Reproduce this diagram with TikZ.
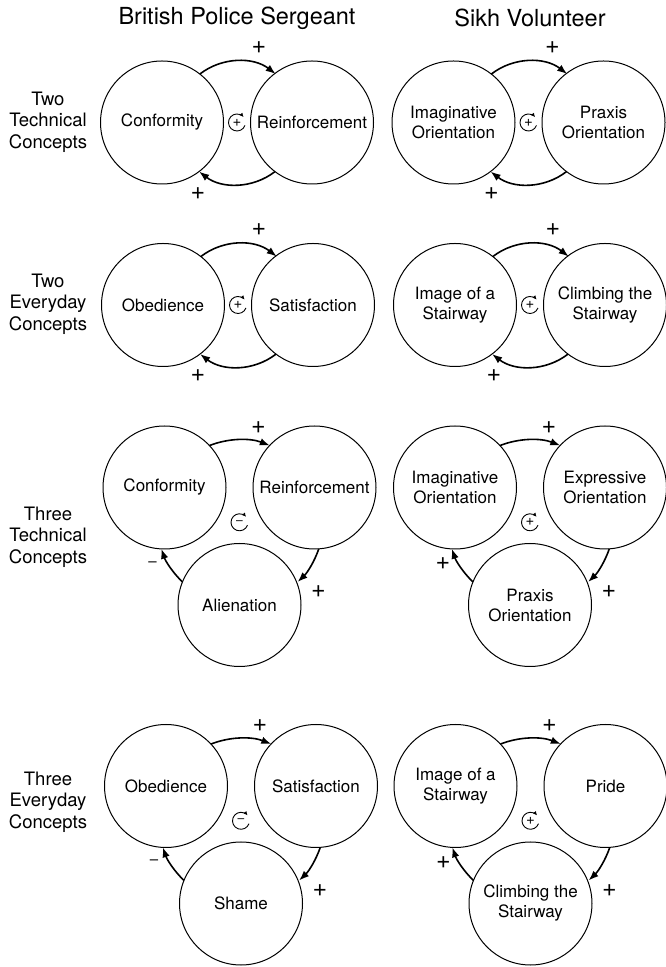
\documentclass[tikz,border=0pt]{standalone}
\usepackage{fontspec}
\setmainfont{TeX Gyre Heros}
\usetikzlibrary{arrows.meta}

\begin{document}
\begin{tikzpicture}[x=1pt,y=1pt,
  concept/.style={circle, draw, line width=1pt, minimum size=123pt, inner sep=0pt,
    outer sep=0pt, align=center, font=\fontsize{17}{20}\selectfont},
  conn/.style={line width=1.6pt, -{Latex[length=10pt,width=7.5pt]}},
  sign/.style={font=\fontsize{25}{28}\selectfont, inner sep=0pt},
  minus/.style={font=\fontsize{15}{17}\selectfont, inner sep=0pt},
  loopsym/.style={circle, minimum size=17pt, inner sep=0pt, outer sep=0pt,
    font=\fontsize{15}{15}\selectfont},
  looparc/.style={line width=0.9pt, -{Latex[length=4pt,width=4pt]}},
  rowlabel/.style={align=center, font=\fontsize{18.5}{21.5}\selectfont},
  header/.style={font=\fontsize{23.5}{26}\selectfont}
]
\useasboundingbox (0,0) rectangle (665,967);

% column headers
\node[header] (hl) at (237,949) {British Police Sergeant};
\node[header] (hr) at (530,949) {Sikh Volunteer};

% row labels
\node[rowlabel] (r1) at (48,845) {Two\\Technical\\Concepts};
\node[rowlabel] (r2) at (48,663) {Two\\Everyday\\Concepts};
\node[rowlabel] (r3) at (48,430) {Three\\Technical\\Concepts};
\node[rowlabel] (r4) at (48,165) {Three\\Everyday\\Concepts};

% ---------- two-concept loops ----------
% row 1, left
\begin{scope}[shift={(237,844.5)}]
  \node[concept] (c1a) at (-75,0) {Conformity};
  \node[concept] (c1b) at (75,0) {Reinforcement};
  \draw[conn] (c1a.52.9) arc[start angle=127.7, end angle=52.3, radius=62];
  \draw[conn] (c1b.-127.1) arc[start angle=-52.3, end angle=-127.7, radius=62];
  \node[sign] (s1a) at (22,75) {+};
  \node[sign] (s1b) at (-39,-71) {+};
  \node[loopsym] (l1) at (0,0) {+};
  \draw[looparc] (l1.-20) arc[start angle=-20, end angle=-320, radius=8.5];
\end{scope}

% row 1, right
\begin{scope}[shift={(528.5,844.5)}]
  \node[concept] (d1a) at (-75,0) {Imaginative\\Orientation};
  \node[concept] (d1b) at (75,0) {Praxis\\Orientation};
  \draw[conn] (d1a.52.9) arc[start angle=127.7, end angle=52.3, radius=62];
  \draw[conn] (d1b.-127.1) arc[start angle=-52.3, end angle=-127.7, radius=62];
  \node[sign] (t1a) at (24,75) {+};
  \node[sign] (t1b) at (-37,-71) {+};
  \node[loopsym] (m1) at (0,0) {+};
  \draw[looparc] (m1.-20) arc[start angle=-20, end angle=-320, radius=8.5];
\end{scope}

% row 2, left
\begin{scope}[shift={(238,662)}]
  \node[concept] (c2a) at (-75,0) {Obedience};
  \node[concept] (c2b) at (75,0) {Satisfaction};
  \draw[conn] (c2a.52.9) arc[start angle=127.7, end angle=52.3, radius=62];
  \draw[conn] (c2b.-127.1) arc[start angle=-52.3, end angle=-127.7, radius=62];
  \node[sign] (s2a) at (21,75) {+};
  \node[sign] (s2b) at (-40,-71) {+};
  \node[loopsym] (l2) at (0,0) {+};
  \draw[looparc] (l2.-20) arc[start angle=-20, end angle=-320, radius=8.5];
\end{scope}

% row 2, right
\begin{scope}[shift={(530,662)}]
  \node[concept] (d2a) at (-75,0) {Image of a\\Stairway};
  \node[concept] (d2b) at (75,0) {Climbing the\\Stairway};
  \draw[conn] (d2a.52.9) arc[start angle=127.7, end angle=52.3, radius=62];
  \draw[conn] (d2b.-127.1) arc[start angle=-52.3, end angle=-127.7, radius=62];
  \node[sign] (t2a) at (23,75) {+};
  \node[sign] (t2b) at (-36,-71) {+};
  \node[loopsym] (m2) at (0,0) {+};
  \draw[looparc] (m2.-20) arc[start angle=-20, end angle=-320, radius=8.5];
\end{scope}

% ---------- three-concept loops ----------
% row 3, left
\begin{scope}[shift={(239.5,479.5)}]
  \node[concept] (c3a) at (-75,0) {Conformity};
  \node[concept] (c3b) at (75,0) {Reinforcement};
  \node[concept] (c3c) at (0,-117.5) {Alienation};
  \draw[conn] (c3a.43.3) arc[start angle=111.4, end angle=68.6, radius=82.7];
  \draw[conn] (c3b.-86.9) arc[start angle=-18.8, end angle=-46.3, radius=82.7];
  \draw[conn] (c3c.158.2) arc[start angle=-133.7, end angle=-161.2, radius=82.7];
  \node[sign] (s3a) at (19,60) {+};
  \node[minus] (s3b) at (-87,-76.5) {\textendash};
  \node[sign] (s3c) at (79,-104.5) {+};
  \node[loopsym] (l3) at (0,-34.8) {\fontsize{12}{12}\selectfont\textendash};
  \draw[looparc] (l3.-20) arc[start angle=-20, end angle=-320, radius=8.5];
\end{scope}

% row 3, right
\begin{scope}[shift={(530,479.5)}]
  \node[concept] (d3a) at (-75,0) {Imaginative\\Orientation};
  \node[concept] (d3b) at (75,0) {Expressive\\Orientation};
  \node[concept] (d3c) at (0,-117.5) {Praxis\\Orientation};
  \draw[conn] (d3a.43.3) arc[start angle=111.4, end angle=68.6, radius=82.7];
  \draw[conn] (d3b.-86.9) arc[start angle=-18.8, end angle=-46.3, radius=82.7];
  \draw[conn] (d3c.158.2) arc[start angle=-133.7, end angle=-161.2, radius=82.7];
  \node[sign] (t3a) at (19,60) {+};
  \node[sign] (t3b) at (-87,-76.5) {+};
  \node[sign] (t3c) at (79,-104.5) {+};
  \node[loopsym] (m3) at (0,-34.8) {+};
  \draw[looparc] (m3.-20) arc[start angle=-20, end angle=-320, radius=8.5];
\end{scope}

% row 4, left
\begin{scope}[shift={(241,181)}]
  \node[concept] (c4a) at (-75,0) {Obedience};
  \node[concept] (c4b) at (75,0) {Satisfaction};
  \node[concept] (c4c) at (0,-117.5) {Shame};
  \draw[conn] (c4a.43.3) arc[start angle=111.4, end angle=68.6, radius=82.7];
  \draw[conn] (c4b.-86.9) arc[start angle=-18.8, end angle=-46.3, radius=82.7];
  \draw[conn] (c4c.158.2) arc[start angle=-133.7, end angle=-161.2, radius=82.7];
  \node[sign] (s4a) at (19,60) {+};
  \node[minus] (s4b) at (-87,-76.5) {\textendash};
  \node[sign] (s4c) at (79,-104.5) {+};
  \node[loopsym] (l4) at (0,-34.8) {\fontsize{12}{12}\selectfont\textendash};
  \draw[looparc] (l4.-20) arc[start angle=-20, end angle=-320, radius=8.5];
\end{scope}

% row 4, right
\begin{scope}[shift={(530.5,181)}]
  \node[concept] (d4a) at (-75,0) {Image of a\\Stairway};
  \node[concept] (d4b) at (75,0) {Pride};
  \node[concept] (d4c) at (0,-117.5) {Climbing the\\Stairway};
  \draw[conn] (d4a.43.3) arc[start angle=111.4, end angle=68.6, radius=82.7];
  \draw[conn] (d4b.-86.9) arc[start angle=-18.8, end angle=-46.3, radius=82.7];
  \draw[conn] (d4c.158.2) arc[start angle=-133.7, end angle=-161.2, radius=82.7];
  \node[sign] (t4a) at (19,60) {+};
  \node[sign] (t4b) at (-87,-76.5) {+};
  \node[sign] (t4c) at (79,-104.5) {+};
  \node[loopsym] (m4) at (0,-34.8) {+};
  \draw[looparc] (m4.-20) arc[start angle=-20, end angle=-320, radius=8.5];
\end{scope}
\end{tikzpicture}
\end{document}
